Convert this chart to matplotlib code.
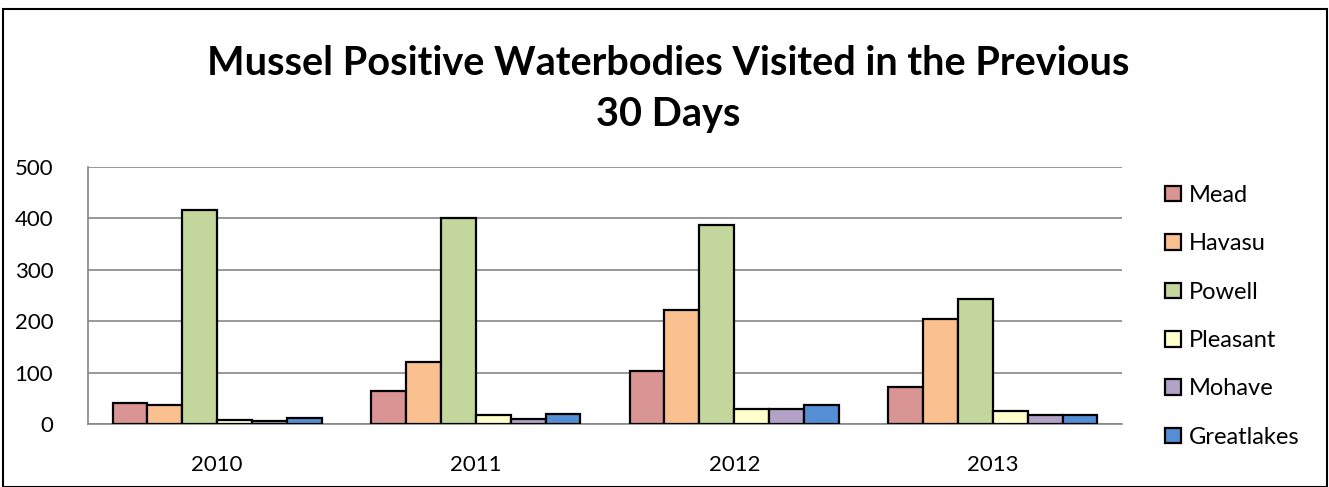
import matplotlib
matplotlib.use("Agg")
import matplotlib.pyplot as plt
import numpy as np
from matplotlib.patches import Rectangle

plt.rcParams['font.family'] = ['Lato', 'DejaVu Sans']

years = ["2010", "2011", "2012", "2013"]
series_names = ["Mead", "Havasu", "Powell", "Pleasant", "Mohave", "Greatlakes"]
mead = [40, 65, 104, 72]
havasu = [36, 120, 222, 205]
powell = [416, 400, 387, 243]
pleasant = [8, 17, 30, 26]
mohave = [6, 10, 30, 17]
greatlakes = [12, 19, 37, 17]
colors = ["#D99594", "#FAC090", "#C3D69B", "#FFFFCC", "#B3A2C7", "#558ED5"]

data = [mead, havasu, powell, pleasant, mohave, greatlakes]

fig = plt.figure(figsize=(13.29, 4.87), dpi=100)
ax = fig.add_axes([88/1329, 63/487, 1034/1329, 257/487])

x = np.arange(len(years))
bw = 0.135
n = len(series_names)
for i, (name, vals, c) in enumerate(zip(series_names, data, colors)):
    ax.bar(x + (i - (n - 1) / 2) * bw, vals, width=bw, color=c,
           edgecolor="black", linewidth=1.6, label=name, zorder=3)

ax.set_xlim(-0.5, len(years) - 0.5)
ax.set_ylim(0, 500)
ax.set_yticks([0, 100, 200, 300, 400, 500])
ax.set_xticks(x)
ax.set_xticklabels(years)
ax.tick_params(axis='both', length=0, labelsize=16)
ax.tick_params(axis='x', pad=22)
ax.tick_params(axis='y', pad=25)
ax.grid(axis='y', color="#868686", linewidth=1.2, zorder=0)
for s in ['top', 'right']:
    ax.spines[s].set_visible(False)
ax.spines['left'].set_color("#868686")
ax.spines['bottom'].set_color("#868686")
ax.spines['left'].set_linewidth(1.2)
ax.spines['bottom'].set_linewidth(1.2)

fig.text(0.503, 1 - 89/487, "Mussel Positive Waterbodies Visited in the Previous\n30 Days",
         ha='center', va='center', fontsize=28.5, fontweight='bold', linespacing=1.45)

leg = fig.legend(loc='upper left', bbox_to_anchor=(1156/1329, 1 - 175.5/487),
                 frameon=False, fontsize=17, handlelength=0.64, handleheight=0.64,
                 handletextpad=0.35, labelspacing=1.16, borderaxespad=0)

fig.patches.append(Rectangle((3/1329, 0), 1324/1329, 478/487, transform=fig.transFigure,
                             fill=False, edgecolor='black', linewidth=1.5))

fig.savefig("out.png", dpi=100)
